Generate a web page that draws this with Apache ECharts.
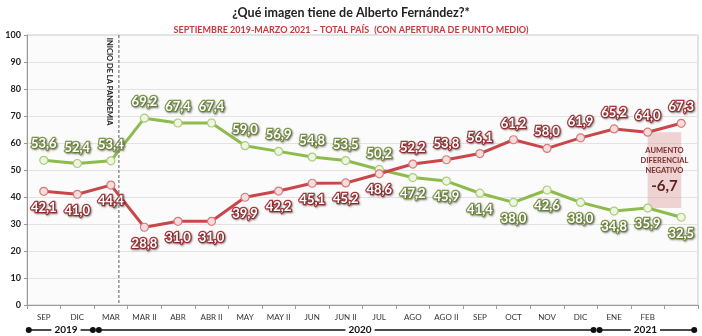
<!DOCTYPE html>
<html><head><meta charset="utf-8">
<script src="https://cdn.jsdelivr.net/npm/echarts@6/dist/echarts.min.js"></script>
<style>html,body{margin:0;padding:0;background:#fff}#c{width:702px;height:336px}</style>
</head><body><div id="c"></div>
<script>
const categories = ['SEP','DIC','MAR','MAR II','ABR','ABR II','MAY','MAY II','JUN','JUN II','JUL','AGO','AGO II','SEP','OCT','NOV','DIC','ENE','FEB',''];
const positiva = [53.6,52.4,53.4,69.2,67.4,67.4,59.0,56.9,54.8,53.5,50.2,47.2,45.9,41.4,38.0,42.6,38.0,34.8,35.9,32.5];
const negativa = [42.1,41.0,44.4,28.8,31.0,31.0,39.9,42.2,45.1,45.2,48.6,52.2,53.8,56.1,61.2,58.0,61.9,65.2,64.0,67.3];
const yTicks = [0,10,20,30,40,50,60,70,80,90,100];
const years = ['2019','2020','2021'];
const diffLabel = '-6,7';

const FONT = 'Lato';
const GREEN = '#8dbb4c', RED = '#c9474a';
const fmt = v => v.toFixed(1).replace('.', ',');

function labelStyle(color, pos){
  return {show:true, position:pos, distance:5, formatter:p=>fmt(p.value),
    fontFamily:FONT, fontSize:13, fontWeight:'bold', color:'#fff',
    textBorderColor:color, textBorderWidth:2.5,
    textShadowColor:'rgba(0,0,0,0.35)', textShadowBlur:2, textShadowOffsetX:1, textShadowOffsetY:1};
}
const greenData = positiva.map((v,i)=>({value:v, label:labelStyle('#7f9a4a', i>=11?'bottom':'top')}));
const redData = negativa.map((v,i)=>({value:v, label:labelStyle('#a8383b', i<=10?'bottom':'top')}));

const chart = echarts.init(document.getElementById('c'));
const option = {
  animation:false,
  backgroundColor:'#fff',
  title:[
    {text:'¿Qué imagen tiene de Alberto Fernández?*', left:'center', top:1,
     textStyle:{fontFamily:FONT, fontSize:12.5, fontWeight:'bold', color:'#222'}},
    {text:'{b|SEPTIEMBRE 2019-MARZO 2021 – TOTAL PAÍS} {n|(CON APERTURA DE PUNTO MEDIO)}', left:'center', top:16,
     textStyle:{rich:{b:{fontFamily:FONT,fontSize:9,fontWeight:'bold',color:'#c9373a'},n:{fontFamily:FONT,fontSize:9,color:'#c9373a'}}}}
  ],
  grid:{left:27, right:4, top:35, bottom:31, show:true, backgroundColor:'#fbfbfb', borderColor:'#c8c8c8', borderWidth:1},
  xAxis:{type:'category', data:categories, boundaryGap:true,
    axisLine:{lineStyle:{color:'#9a9a9a'}},
    axisTick:{show:true, length:4, lineStyle:{color:'#9a9a9a'}},
    axisLabel:{fontFamily:FONT, fontSize:8, color:'#333', margin:8, interval:0}},
  yAxis:{type:'value', min:0, max:100, interval:10,
    axisLine:{show:true, lineStyle:{color:'#9a9a9a'}},
    axisTick:{show:true, length:3, lineStyle:{color:'#9a9a9a'}},
    axisLabel:{fontFamily:FONT, fontSize:9, fontWeight:'bold', color:'#222', margin:6},
    splitLine:{lineStyle:{color:'#e2e2e2'}}},
  series:[
    {name:'Positiva', type:'line', data:greenData, symbol:'circle', symbolSize:8,
     lineStyle:{color:GREEN, width:3}, itemStyle:{color:'#eef5e0', borderColor:'#a9cd7a', borderWidth:1.2}, z:3},
    {name:'Negativa', type:'line', data:redData, symbol:'circle', symbolSize:8,
     lineStyle:{color:RED, width:3}, itemStyle:{color:'#f7dcdc', borderColor:'#d57b7d', borderWidth:1.2}, z:4,
     markArea:{silent:true, itemStyle:{color:'rgba(225,160,160,0.45)'},
       data:[[{coord:[18, negativa[18]]},{coord:[19, positiva[18]]}]]}}
  ]
};
chart.setOption(option);

const px = i => chart.convertToPixel({xAxisIndex:0}, i);
const py = v => chart.convertToPixel({yAxisIndex:0}, v);
const xPand = px(2) + 8;
const xDiff = (px(18)+px(19))/2;
const yLine = 330;
const x0 = px(0)-15, b1 = px(2)-15, b2 = px(16)+16, xEnd = px(19)+13;
const dot = x=>({type:'circle', shape:{cx:x, cy:yLine, r:3}, style:{fill:'#111'}});
const seg = (a,b)=>({type:'line', shape:{x1:a,y1:yLine,x2:b,y2:yLine}, style:{stroke:'#111', lineWidth:1.6}});
const yr = (t,x)=>({type:'text', x:x, y:yLine, style:{text:t, fontFamily:FONT, fontSize:10, fontWeight:'bold', fill:'#111', align:'center', verticalAlign:'middle', backgroundColor:'#fff', padding:[0,3]}});
chart.setOption({graphic:[
  {type:'line', shape:{x1:xPand, y1:py(100), x2:xPand, y2:py(0)}, style:{stroke:'#777', lineWidth:1.2, lineDash:[3,2]}, z:10},
  {type:'text', x:xPand-9, y:py(99), rotation:-Math.PI/2, style:{text:'INICIO DE LA PANDEMIA', fontFamily:FONT, fontSize:7.5, fontWeight:'bold', fill:'#222', align:'left', verticalAlign:'middle'}, z:10},
  {type:'text', x:xDiff, y:py(53.5), style:{text:'AUMENTO\nDIFERENCIAL\nNEGATIVO', fontFamily:FONT, fontSize:7.5, fontWeight:'bold', fill:'#7a2e2e', align:'center', verticalAlign:'middle', lineHeight:10}, z:10},
  {type:'text', x:xDiff, y:py(44), style:{text:diffLabel, fontFamily:FONT, fontSize:15, fontWeight:'bold', fill:'#5a2222', align:'center', verticalAlign:'middle'}, z:10},
  seg(x0, b1-3), seg(b1+3, b2-3), seg(b2+3, xEnd),
  dot(x0), dot(b1-3), dot(b1+3), dot(b2-3), dot(b2+3), dot(xEnd),
  yr(years[0], 66), yr(years[1], 360), yr(years[2], (b2+xEnd)/2)
]});
</script></body></html>
